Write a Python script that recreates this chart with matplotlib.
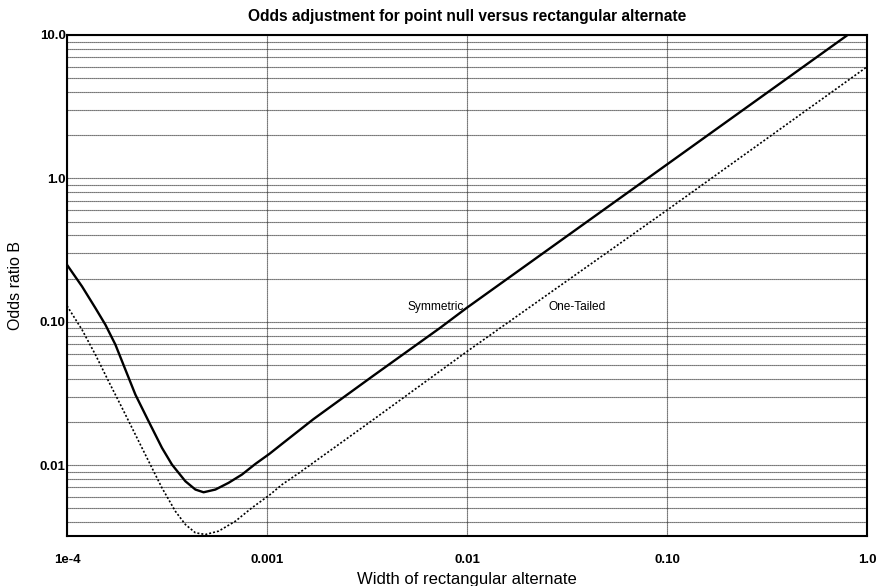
import numpy as np
import matplotlib
matplotlib.use('Agg')
import matplotlib.pyplot as plt
from matplotlib.ticker import FixedLocator, LogLocator, NullFormatter

plt.rcParams['font.family'] = ['Liberation Sans', 'DejaVu Sans']

# width of rectangular alternate vs odds ratio B
sym_w = [1.0e-4, 1.189e-4, 1.387e-4, 1.556e-4, 1.746e-4, 1.959e-4, 2.198e-4, 2.559e-4,
         2.985e-4, 3.350e-4, 3.908e-4, 4.385e-4, 4.819e-4, 5.521e-4, 6.427e-4, 7.499e-4,
         8.750e-4, 1.028e-3, 1.189e-3, 1.706e-3, 3.40e-3, 7.33e-3, 0.01, 0.1, 1.0]
sym_b = [0.2495, 0.1762, 0.1245, 0.0953, 0.0692, 0.0463, 0.0310, 0.0202,
         0.01318, 0.01007, 0.00771, 0.00675, 0.00646, 0.00675, 0.00752, 0.00859,
         0.01019, 0.01197, 0.01406, 0.0209, 0.0420, 0.0905, 0.1253, 1.25, 12.5]

one_w = [1.0e-4, 1.189e-4, 1.387e-4, 1.614e-4, 1.884e-4, 2.198e-4, 2.559e-4, 2.985e-4,
         3.483e-4, 3.908e-4, 4.385e-4, 4.920e-4, 5.728e-4, 6.950e-4, 8.414e-4, 1.028e-3,
         1.189e-3, 1.462e-3, 3.40e-3, 0.01, 0.1, 1.0]
one_b = [0.129, 0.0879, 0.0589, 0.0384, 0.0251, 0.0163, 0.01064, 0.00693,
         0.00476, 0.00385, 0.00337, 0.00328, 0.00346, 0.00406, 0.00504, 0.00617,
         0.00731, 0.00891, 0.02075, 0.062, 0.60, 6.0]

x_ticks = [1e-4, 1e-3, 1e-2, 1e-1, 1.0]
x_labels = ['1e-4', '0.001', '0.01', '0.10', '1.0']
y_ticks = [0.01, 0.1, 1.0, 10.0]
y_labels = ['0.01', '0.10', '1.0', '10.0']

fig = plt.figure(figsize=(8.78, 5.86), dpi=100)
ax = fig.add_axes([0.0763, 0.0853, 0.9112, 0.855])
ax.set_xscale('log')
ax.set_yscale('log')
ax.set_xlim(1e-4, 1.0)
ax.set_ylim(0.0032, 10.0)

# grid: all horizontal decades + minors, vertical decades only
ax.yaxis.set_minor_locator(LogLocator(base=10, subs=np.arange(2, 10)))
ax.yaxis.set_minor_formatter(NullFormatter())
ax.xaxis.set_minor_locator(FixedLocator([]))
ax.grid(True, which='both', axis='y', color='#222222', lw=0.8, ls=(0, (1, 0.8)))
ax.grid(True, which='major', axis='x', color='#222222', lw=0.8, ls=(0, (1, 0.8)))

ax.plot(sym_w, sym_b, color='black', lw=1.7)
ax.plot(one_w, one_b, color='black', lw=1.2, ls=(0, (1.2, 1.2)))

ax.text(10**-2.015, 0.127, 'Symmetric', ha='right', va='center', fontsize=8.6)
ax.text(10**-1.595, 0.127, 'One-Tailed', ha='left', va='center', fontsize=8.6)

ax.set_xticks(x_ticks)
ax.set_xticklabels(x_labels, fontweight='bold', fontsize=9.5)
ax.set_yticks(y_ticks)
ax.set_yticklabels(y_labels, fontweight='bold', fontsize=9.5)
ax.tick_params(axis='both', which='both', length=0)
ax.tick_params(axis='x', pad=13)
ax.tick_params(axis='y', pad=1)

for s in ax.spines.values():
    s.set_linewidth(1.5)

ax.set_title('Odds adjustment for point null versus rectangular alternate',
             fontweight='bold', fontsize=11.2, pad=10)
ax.set_xlabel('Width of rectangular alternate', fontsize=12, labelpad=4)
ax.set_ylabel('Odds ratio B', fontsize=11.5, labelpad=12)

fig.savefig('out.png', dpi=100)
